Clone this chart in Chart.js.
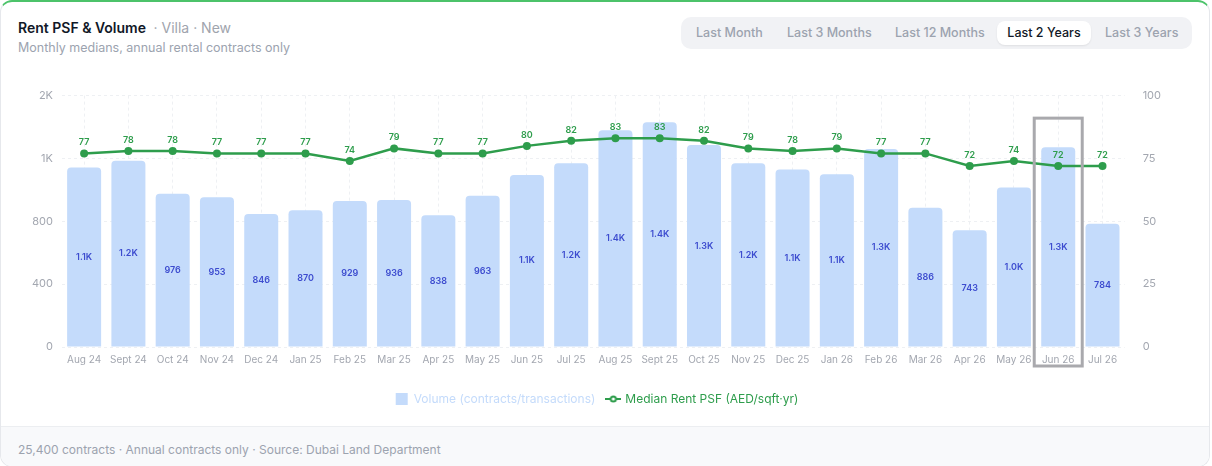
<!DOCTYPE html>
<html>
<head>
<meta charset="utf-8">
<script src="https://cdn.jsdelivr.net/npm/chart.js@4.4.1/dist/chart.umd.min.js"></script>
<style>
  html, body { margin: 0; padding: 0; background: #fff; font-family: Inter, "Noto Sans", sans-serif; }
  .card {
    position: absolute; left: 0; top: 0; width: 1208px; height: 464px;
    border: 1px solid #e6e8ec; border-top: 2px solid #4cc36a; border-radius: 12px;
    overflow: hidden; background: #fff;
  }
  .title { position: absolute; left: 17px; top: 17px; font-size: 14px; font-weight: 600; color: #111827; }
  .title span { font-weight: 400; color: #a0a4ad; margin-left: 4px; }
  .subtitle { position: absolute; left: 17px; top: 38px; font-size: 12.5px; color: #9ca3af; }
  .tabs {
    position: absolute; left: 680px; top: 15px; height: 32px; width: 511px;
    background: #f1f2f5; border-radius: 10px;
  }
  .tab { position: absolute; top: 4px; height: 24px; line-height: 24px; font-size: 12.5px; font-weight: 500; color: #9ca3af; }
  .tab.active { background: #fff; color: #111827; border-radius: 8px; box-shadow: 0 1px 2px rgba(0,0,0,0.08); text-align: center; }
  .chartbox { position: absolute; left: 22px; top: 77px; width: 1148px; height: 336px; }
  .footer {
    position: absolute; left: 0; right: 0; top: 424px; bottom: 0;
    background: #f8f9fb; border-top: 1px solid #eceef1;
  }
  .footer div { position: absolute; left: 17px; top: 15px; font-size: 12px; color: #9ca3af; }
</style>
</head>
<body>
<div class="card">
  <div class="title">Rent PSF &amp; Volume <span>· Villa · New</span></div>
  <div class="subtitle">Monthly medians, annual rental contracts only</div>
  <div class="tabs">
    <div class="tab" style="left:15px">Last Month</div>
    <div class="tab" style="left:106px">Last 3 Months</div>
    <div class="tab" style="left:214px">Last 12 Months</div>
    <div class="tab active" style="left:316px;width:94px">Last 2 Years</div>
    <div class="tab" style="left:424px">Last 3 Years</div>
  </div>
  <div class="chartbox"><canvas id="rentChart"></canvas></div>
  <div class="footer"><div>25,400 contracts · Annual contracts only · Source: Dubai Land Department</div></div>
</div>
<script>
const meses = ['Aug 24', 'Sept 24', 'Oct 24', 'Nov 24', 'Dec 24', 'Jan 25', 'Feb 25', 'Mar 25', 'Apr 25', 'May 25', 'Jun 25', 'Jul 25',
  'Aug 25', 'Sept 25', 'Oct 25', 'Nov 25', 'Dec 25', 'Jan 26', 'Feb 26', 'Mar 26', 'Apr 26', 'May 26', 'Jun 26', 'Jul 26'];
const volume = [1143, 1185, 976, 953, 846, 870, 929, 936, 838, 963, 1095, 1170,
  1380, 1430, 1285, 1170, 1130, 1100, 1260, 886, 743, 1015, 1272, 784];
const rentPsf = [77, 78, 78, 77, 77, 77, 74, 79, 77, 77, 80, 82,
  83, 83, 82, 79, 78, 79, 77, 77, 72, 74, 72, 72];
const volumeTicks = [0, 400, 800, 1200, 1600];
const psfTicks = [0, 25, 50, 75, 100];
const destaque = 'Jun 26';

const corBarra = '#c4dbfb';
const corLinha = '#2e9d4c';
const corTick = '#a3a7b0';

function formatK(v) {
    if (v >= 1000) {
        const k = v / 1000;
        return (k >= 10 ? k.toFixed(0) : k.toFixed(1)) + 'K';
    }
    return String(v);
}

// marker for the line in the legend
function markerLinha() {
    const c = document.createElement('canvas');
    c.width = 16; c.height = 10;
    const g = c.getContext('2d');
    g.strokeStyle = corLinha; g.lineWidth = 2;
    g.beginPath(); g.moveTo(0, 5); g.lineTo(16, 5); g.stroke();
    g.fillStyle = '#fff';
    g.beginPath(); g.arc(8, 5, 2.6, 0, Math.PI * 2); g.fill(); g.stroke();
    return c;
}

const rotulosPlugin = {
    id: 'rotulos',
    afterDatasetsDraw(chart) {
        const ctx = chart.ctx;
        const barras = chart.getDatasetMeta(1).data;
        const pontos = chart.getDatasetMeta(0).data;
        ctx.save();
        ctx.textAlign = 'center';
        ctx.textBaseline = 'middle';
        ctx.font = '600 9px Inter, sans-serif';
        ctx.fillStyle = '#3d4ccf';
        barras.forEach((bar, i) => {
            ctx.fillText(formatK(volume[i]), bar.x, (bar.y + bar.base) / 2);
        });
        ctx.fillStyle = corLinha;
        pontos.forEach((pt, i) => {
            ctx.fillText(String(rentPsf[i]), pt.x, pt.y - 11);
        });
        // highlight box around selected month
        const idx = meses.indexOf(destaque);
        if (idx >= 0) {
            const x = chart.scales.x.getPixelForValue(idx);
            const top = Math.min(barras[idx].y, pontos[idx].y) - 29;
            ctx.strokeStyle = '#a9a9ad';
            ctx.lineWidth = 3;
            ctx.strokeRect(x - 24, top, 48, chart.chartArea.bottom + 19 - top);
        }
        ctx.restore();
    }
};

const ctxRent = document.getElementById('rentChart').getContext('2d');
new Chart(ctxRent, {
    data: {
        labels: meses,
        datasets: [{
            type: 'line',
            label: 'Median Rent PSF (AED/sqft·yr)',
            data: rentPsf,
            yAxisID: 'y1',
            borderColor: corLinha,
            backgroundColor: corLinha,
            borderWidth: 2.5,
            pointRadius: 4,
            pointBackgroundColor: corLinha,
            pointBorderWidth: 0,
            tension: 0,
            order: 0
        }, {
            type: 'bar',
            label: 'Volume (contracts/transactions)',
            data: volume,
            yAxisID: 'y',
            backgroundColor: corBarra,
            borderRadius: { topLeft: 4, topRight: 4 },
            borderSkipped: 'bottom',
            categoryPercentage: 0.8,
            barPercentage: 0.96,
            order: 1
        }]
    },
    options: {
        responsive: true,
        maintainAspectRatio: false,
        animation: false,
        layout: { padding: 0 },
        plugins: {
            tooltip: { enabled: false },
            legend: {
                position: 'bottom',
                labels: {
                    font: { family: 'Inter', size: 12 },
                    boxWidth: 14,
                    boxHeight: 12,
                    padding: 12,
                    usePointStyle: true,
                    generateLabels(chart) {
                        return [{
                            text: 'Volume (contracts/transactions)',
                            fillStyle: corBarra,
                            strokeStyle: corBarra,
                            fontColor: '#c4dbfb',
                            pointStyle: 'rect',
                            lineWidth: 0,
                            datasetIndex: 1,
                            hidden: false
                        }, {
                            text: 'Median Rent PSF (AED/sqft·yr)',
                            fillStyle: corLinha,
                            strokeStyle: corLinha,
                            fontColor: corLinha,
                            pointStyle: markerLinha(),
                            lineWidth: 0,
                            datasetIndex: 0,
                            hidden: false
                        }];
                    }
                }
            }
        },
        scales: {
            x: {
                grid: { offset: false, color: '#eef0f3', drawTicks: false },
                border: { display: false, dash: [3, 3] },
                ticks: { color: corTick, font: { family: 'Inter', size: 10 }, padding: 7, maxRotation: 0, autoSkip: false },
                afterFit: scale => { scale.height += 8; }
            },
            y: {
                position: 'left',
                min: 0,
                max: 1600,
                afterBuildTicks: axis => { axis.ticks = volumeTicks.map(v => ({ value: v })); },
                grid: { color: '#eef0f3', drawTicks: false },
                border: { display: false, dash: [3, 3] },
                ticks: { color: corTick, font: { family: 'Inter', size: 11 }, padding: 9, callback: v => v >= 1000 ? (v / 1000).toFixed(0) + 'K' : v }
            },
            y1: {
                position: 'right',
                min: 0,
                max: 100,
                afterBuildTicks: axis => { axis.ticks = psfTicks.map(v => ({ value: v })); },
                grid: { display: false },
                border: { display: false },
                ticks: { color: corTick, font: { family: 'Inter', size: 11 }, padding: 10 }
            }
        }
    },
    plugins: [rotulosPlugin]
});
</script>
</body>
</html>
